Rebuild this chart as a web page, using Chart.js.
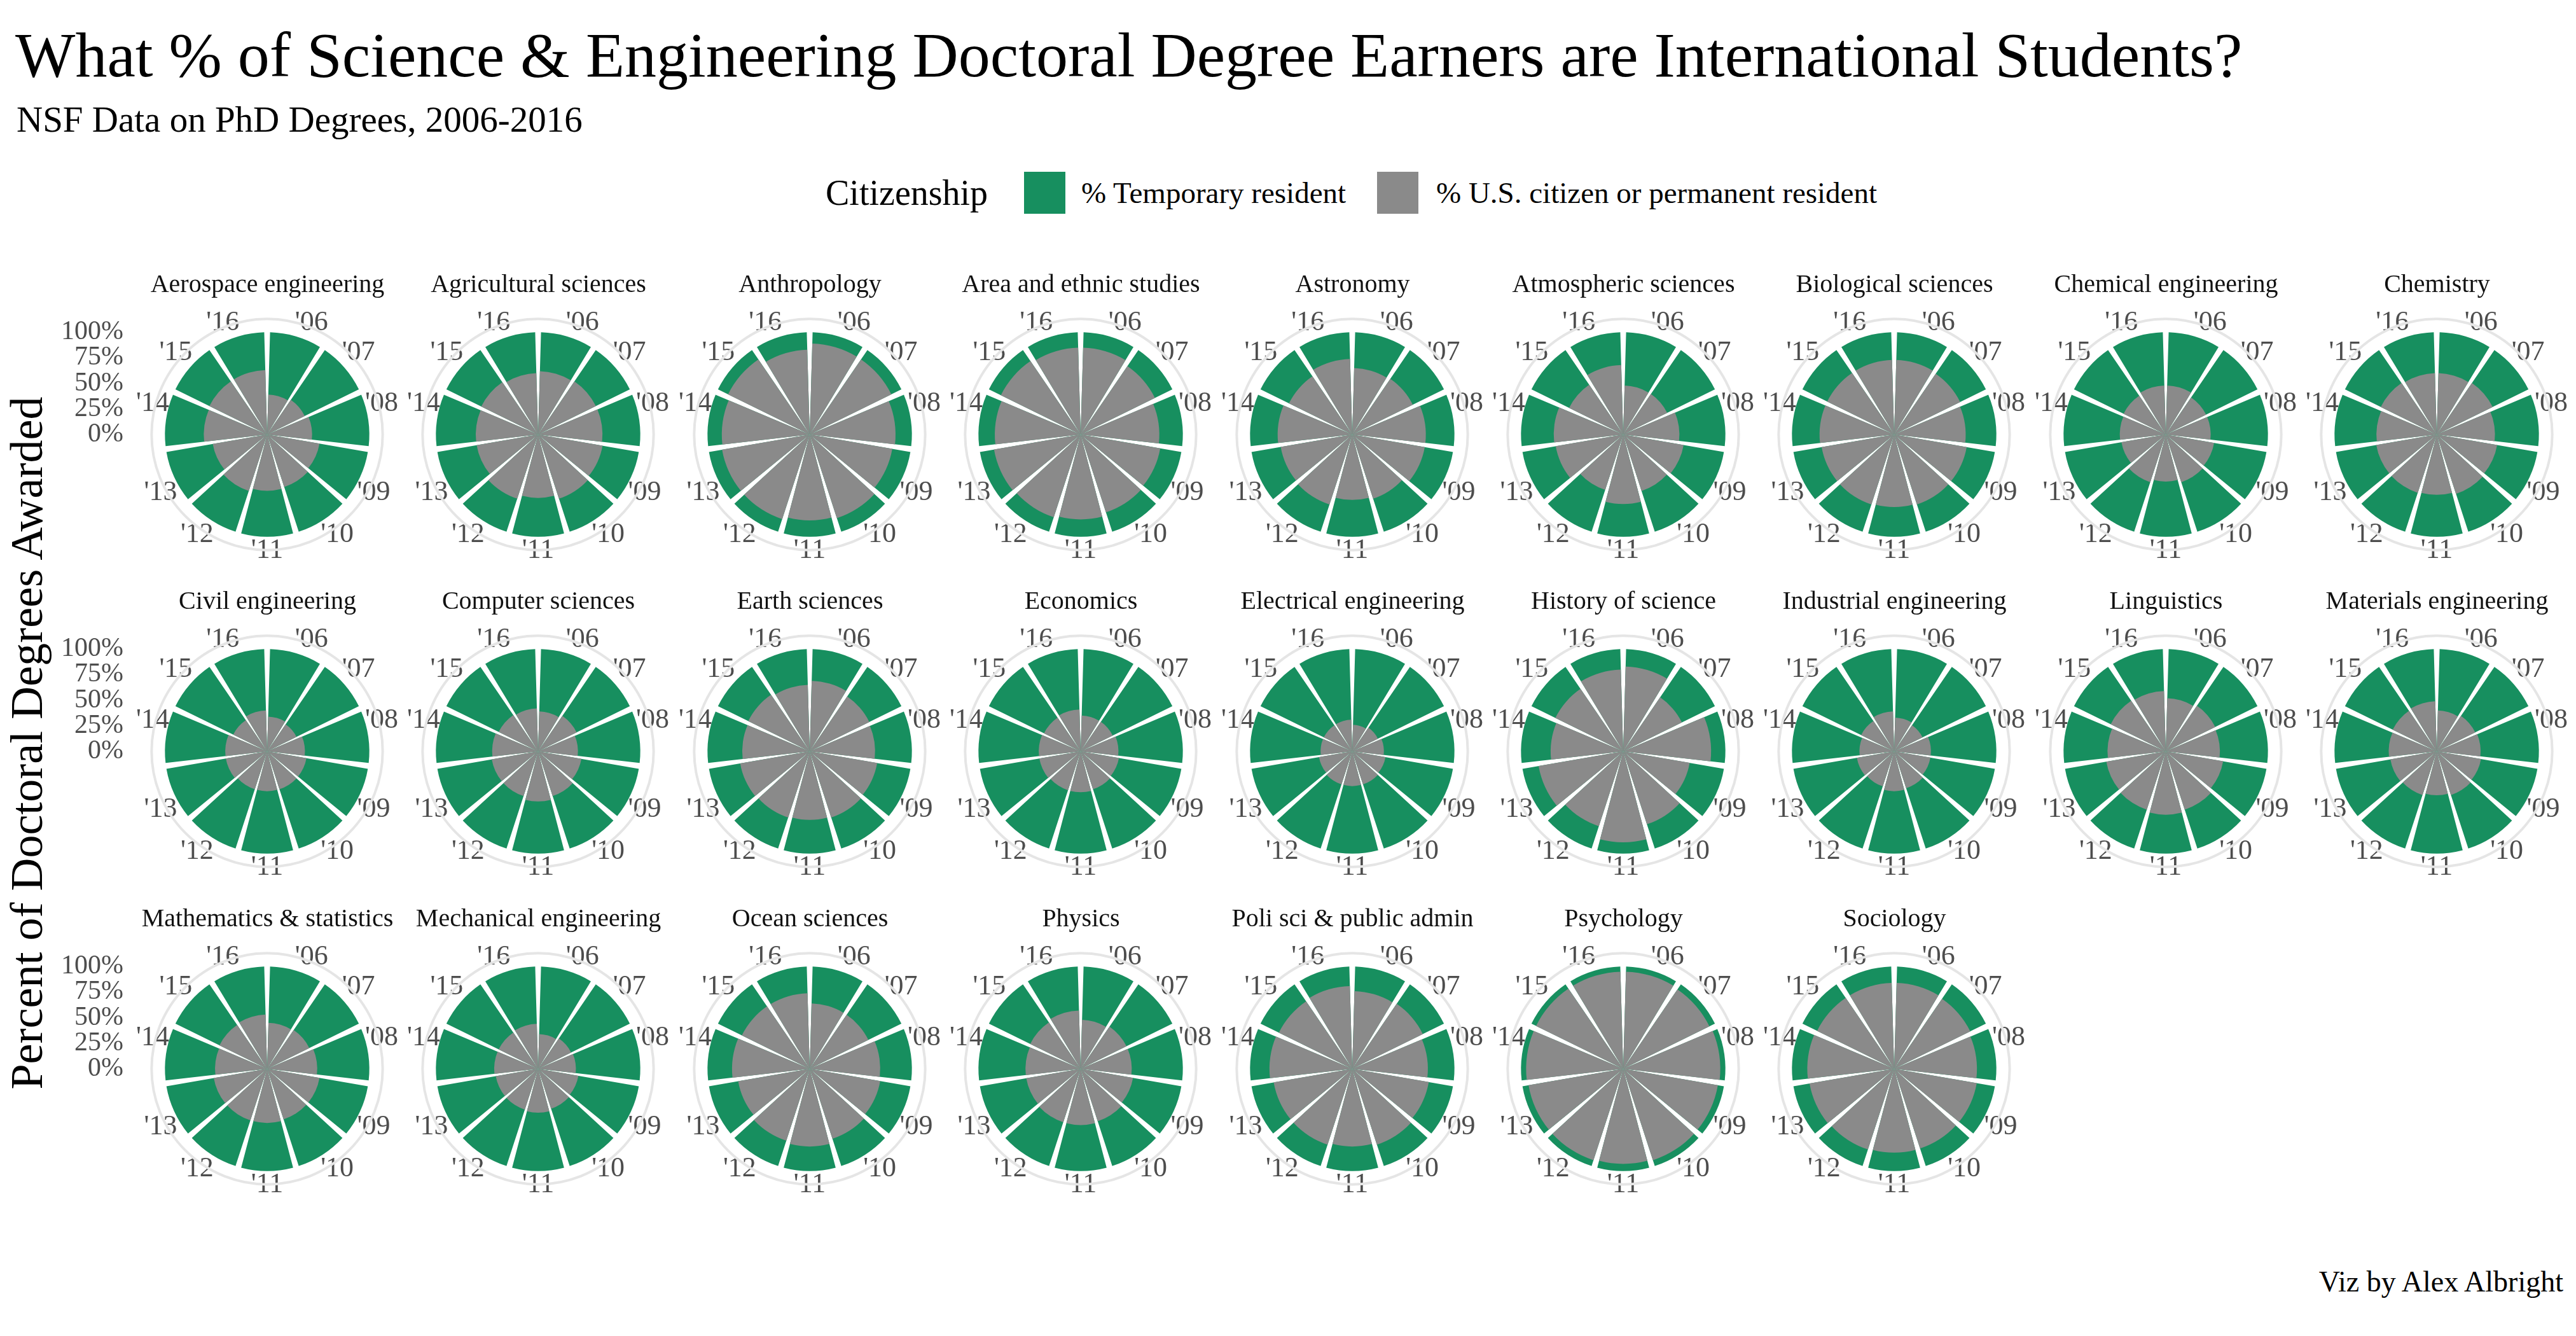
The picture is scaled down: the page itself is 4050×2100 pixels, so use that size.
<!DOCTYPE html>
<html lang="en">
<head>
<meta charset="UTF-8">
<title>International Students among S&amp;E Doctoral Degree Earners</title>
<script src="https://cdn.jsdelivr.net/npm/chart.js"></script>
<style>
  body { margin: 0; background: #ffffff; }
  #page {
    position: relative;
    width: 4050px;
    height: 2100px;
    overflow: hidden;
    background: #ffffff;
    font-family: "Liberation Serif", serif;
    color: #000000;
  }
  .txt { position: absolute; white-space: nowrap; line-height: 1; }
  .swatch { position: absolute; width: 65px; height: 66px; }
  canvas { position: absolute; }
</style>
</head>
<body>
<div id="page">
  <div class="txt" style="left:24px; top:37px; font-size:100px;">What % of Science &amp; Engineering Doctoral Degree Earners are International Students?</div>
  <div class="txt" style="left:26px; top:159px; font-size:57px;">NSF Data on PhD Degrees, 2006-2016</div>

  <div class="txt" style="left:1298px; top:270px; line-height:66px; font-size:56px;">Citizenship</div>
  <div class="swatch" style="left:1610px; top:270px; background:#178f5f;"></div>
  <div class="txt" style="left:1700px; top:270px; line-height:66px; font-size:47px;">% Temporary resident</div>
  <div class="swatch" style="left:2165px; top:270px; background:#8a8a8a;"></div>
  <div class="txt" style="left:2258px; top:270px; line-height:66px; font-size:47px;">% U.S. citizen or permanent resident</div>

  <div class="txt" style="left:42px; top:1168px; font-size:72px; transform: translate(-50%, -50%) rotate(-90deg);">Percent of Doctoral Degrees Awarded</div>

  <div class="txt" style="right:20px; top:1992px; font-size:46px;">Viz by Alex Albright</div>
</div>

<script>
    // years on the angular axis, ticks on the radial axis
    const years = ["'06", "'07", "'08", "'09", "'10", "'11", "'12", "'13", "'14", "'15", "'16"];
    const pctTicks = [0, 25, 50, 75, 100];

    // % U.S. citizen or permanent resident per year, '06 .. '16
    const aerospace     = [39, 41, 44, 52, 54, 55, 58, 54, 62, 63, 63];
    const agricultural  = [62, 63, 63, 64, 66, 62, 66, 61, 61, 62, 60];
    const anthropology  = [89, 89, 84, 82, 86, 84, 87, 87, 86, 89, 83];
    const areaEthnic    = [85, 81, 77, 79, 80, 83, 85, 86, 84, 87, 85];
    const astronomy     = [65, 66, 72, 72, 66, 64, 72, 71, 73, 69, 74];
    const atmospheric   = [48, 48, 55, 60, 58, 68, 57, 67, 68, 59, 68];
    const biological    = [73, 72, 70, 72, 72, 71, 72, 72, 73, 73, 73];
    const chemicalEng   = [48, 44, 44, 48, 49, 46, 49, 44, 45, 46, 48];
    const chemistry     = [60, 61, 57, 60, 61, 59, 60, 60, 59, 61, 60];
    const civilEng      = [34, 32, 37, 39, 39, 39, 39, 41, 41, 37, 40];
    const computerSci   = [39, 42, 39, 43, 46, 49, 46, 46, 45, 43, 42];
    const earthSci      = [69, 65, 64, 67, 68, 67, 68, 69, 66, 67, 65];
    const economics     = [35, 35, 37, 38, 39, 40, 40, 41, 41, 40, 41];
    const electricalEng = [26, 28, 31, 33, 34, 34, 34, 33, 31, 31, 31];
    const historySci    = [83, 64, 86, 66, 75, 89, 77, 84, 71, 74, 80];
    const industrialEng = [33, 31, 36, 36, 38, 39, 36, 37, 34, 36, 39];
    const linguistics   = [52, 54, 53, 57, 60, 62, 60, 59, 57, 60, 59];
    const materialsEng  = [40, 42, 43, 44, 45, 43, 45, 46, 47, 48, 49];
    const mathStats     = [45, 46, 49, 52, 52, 53, 53, 53, 51, 52, 53];
    const mechanicalEng = [34, 36, 37, 40, 41, 43, 42, 42, 43, 43, 44];
    const oceanSci      = [64, 64, 69, 70, 72, 76, 74, 71, 76, 74, 74];
    const physics       = [48, 50, 50, 52, 54, 55, 55, 54, 54, 55, 57];
    const poliSci       = [76, 77, 74, 76, 78, 76, 78, 78, 81, 80, 81];
    const psychology    = [95, 94, 95, 94, 94, 93, 94, 94, 95, 95, 95];
    const sociology     = [84, 83, 81, 82, 82, 82, 83, 84, 85, 84, 84];

    const fields = [
        ['Aerospace engineering', aerospace],
        ['Agricultural sciences', agricultural],
        ['Anthropology', anthropology],
        ['Area and ethnic studies', areaEthnic],
        ['Astronomy', astronomy],
        ['Atmospheric sciences', atmospheric],
        ['Biological sciences', biological],
        ['Chemical engineering', chemicalEng],
        ['Chemistry', chemistry],
        ['Civil engineering', civilEng],
        ['Computer sciences', computerSci],
        ['Earth sciences', earthSci],
        ['Economics', economics],
        ['Electrical engineering', electricalEng],
        ['History of science', historySci],
        ['Industrial engineering', industrialEng],
        ['Linguistics', linguistics],
        ['Materials engineering', materialsEng],
        ['Mathematics & statistics', mathStats],
        ['Mechanical engineering', mechanicalEng],
        ['Ocean sciences', oceanSci],
        ['Physics', physics],
        ['Poli sci & public admin', poliSci],
        ['Psychology', psychology],
        ['Sociology', sociology]
    ];

    const GREEN = '#178f5f';
    const GRAY = '#8a8a8a';
    const FONT = 'Liberation Serif';

    // wedge gaps: a fixed share of each sector is left blank (arc spacing scales with radius)
    const GAP = 0.1;
    const K = GAP / (1 - GAP);
    const RING_PX = 182;                     // radius of the outer grey circle
    const RING = 182 / 161;                  // outer grey circle vs. 100% radius
    const RMAX = 100 * RING * (1 + K / 2);

    const COL0 = 420, COL_STEP = 426.4;
    const ROW_Y = [683, 1181, 1680];

    const page = document.getElementById('page');

    function wedgeSpacing(ctx) {
        return K * ctx.chart.scales.r.getDistanceFromCenterForValue(ctx.raw);
    }

    function makePanel(name, us, cx, cy) {
        const canvas = document.createElement('canvas');
        canvas.width = 410;
        canvas.height = 478;
        page.appendChild(canvas);
        const intl = us.map(v => 100 - v);
        const chart = new Chart(canvas, {
            type: 'polarArea',
            data: {
                labels: years,
                datasets: [
                    {
                        label: '% U.S. citizen or permanent resident',
                        data: us,
                        backgroundColor: GRAY,
                        borderWidth: 0,
                        spacing: wedgeSpacing
                    },
                    {
                        label: '% Temporary resident',
                        data: us.map((v, i) => v + intl[i]),
                        backgroundColor: GREEN,
                        borderWidth: 0,
                        spacing: wedgeSpacing
                    }
                ]
            },
            options: {
                responsive: false,
                maintainAspectRatio: false,
                animation: false,
                events: [],
                layout: { padding: 0 },
                plugins: {
                    legend: { display: false },
                    tooltip: { enabled: false },
                    title: {
                        display: true,
                        text: name,
                        color: '#111111',
                        font: { family: FONT, size: 40, weight: 'normal', lineHeight: 1.2 },
                        padding: { top: 0, bottom: 0 }
                    }
                },
                scales: {
                    r: {
                        min: 0,
                        max: RMAX,
                        startAngle: 0,
                        ticks: { display: false, stepSize: RMAX },
                        grid: {
                            circular: true,
                            color: ctx => ctx.tick && ctx.tick.value >= RMAX - 0.01 ? '#e5e5e5' : 'rgba(0,0,0,0)',
                            lineWidth: 4
                        },
                        angleLines: { display: false },
                        pointLabels: {
                            display: true,
                            centerPointLabels: true,
                            padding: -26,
                            color: '#4d4d4d',
                            font: { family: FONT, size: 44 }
                        }
                    }
                }
            }
        });
        // widen / narrow the canvas until the outer circle has the wanted radius
        for (let it = 0; it < 4; it++) {
            const d = chart.scales.r.drawingArea;
            if (Math.abs(d - RING_PX) < 0.6) break;
            chart.resize(Math.round(chart.width + 2 * (RING_PX - d)), 478);
        }
        const r = chart.scales.r;
        canvas.style.left = (cx - r.xCenter) + 'px';
        canvas.style.top = (cy - r.yCenter) + 'px';
        return chart;
    }

    function makeAxis(chart, cy) {
        const r = chart.scales.r;
        const barR = Math.round(r.getDistanceFromCenterForValue(100) * (1 + K / 2));
        const canvas = document.createElement('canvas');
        canvas.width = 200;
        canvas.height = barR + 60;
        canvas.style.left = '0px';
        canvas.style.top = (cy - barR - 30) + 'px';
        page.appendChild(canvas);
        new Chart(canvas, {
            type: 'line',
            data: { labels: [], datasets: [] },
            options: {
                responsive: false,
                maintainAspectRatio: false,
                animation: false,
                events: [],
                layout: { padding: { top: 30, bottom: 30, left: 0, right: 0 } },
                plugins: { legend: { display: false }, tooltip: { enabled: false } },
                scales: {
                    x: { display: false },
                    y: {
                        min: 0,
                        max: 100,
                        afterBuildTicks: s => { s.ticks = pctTicks.map(v => ({ value: v })); },
                        afterFit: s => { s.width = 194; },
                        grid: { display: false, drawTicks: false },
                        border: { display: false },
                        ticks: {
                            autoSkip: false,
                            padding: 0,
                            color: '#4d4d4d',
                            font: { family: FONT, size: 42 },
                            callback: v => v + '%'
                        }
                    }
                }
            }
        });
    }

    fields.forEach(([name, us], i) => {
        const row = Math.floor(i / 9);
        const col = i % 9;
        const chart = makePanel(name, us, COL0 + COL_STEP * col, ROW_Y[row]);
        if (col === 0) makeAxis(chart, ROW_Y[row]);
    });
</script>
</body>
</html>
